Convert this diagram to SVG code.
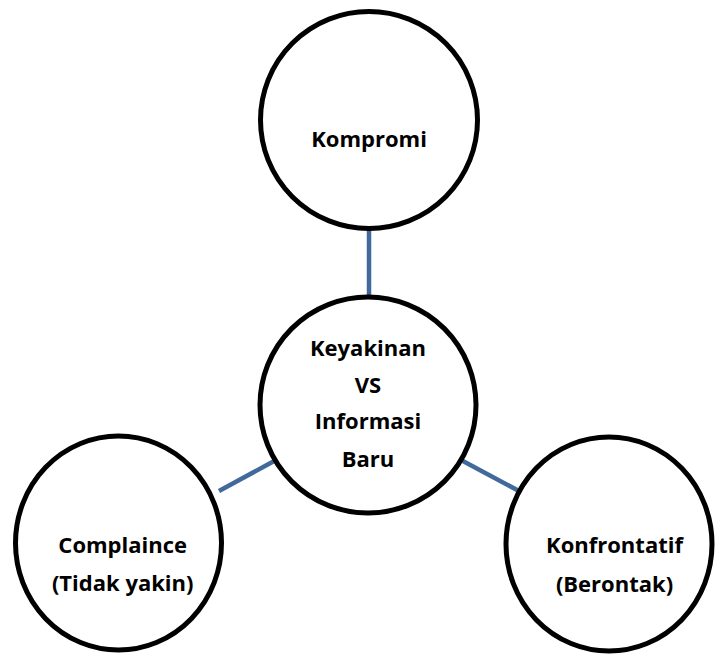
<svg xmlns="http://www.w3.org/2000/svg" width="716" height="655" viewBox="0 0 716 655">
<style>
.node{fill:#ffffff;stroke:#000000;stroke-width:5}
.conn{stroke:#41699B;stroke-width:4.5;fill:none}
text{font-family:"Open Sans","Liberation Sans",sans-serif;font-weight:bold;font-size:22px;fill:#000000;text-anchor:middle}
</style>
<rect width="716" height="655" fill="#ffffff"/>
<g id="connectors">
<line class="conn" x1="369" y1="230" x2="369" y2="297"/>
<line class="conn" x1="276" y1="460" x2="219" y2="491"/>
<line class="conn" x1="461" y1="460" x2="519" y2="491"/>
</g>
<g id="node-kompromi">
<circle class="node" cx="369" cy="120" r="108.5"/>
<text x="369" y="147">Kompromi</text>
</g>
<g id="node-center">
<circle class="node" cx="368" cy="405" r="108"/>
<text x="368" y="356">Keyakinan</text>
<text x="368" y="393">VS</text>
<text x="368" y="429">Informasi</text>
<text x="368" y="467">Baru</text>
</g>
<g id="node-complaince">
<ellipse class="node" cx="118.5" cy="543" rx="103" ry="107"/>
<text x="122.7" y="553">Complaince</text>
<text x="122.7" y="591">(Tidak yakin)</text>
</g>
<g id="node-konfrontatif">
<ellipse class="node" cx="609" cy="544" rx="103" ry="107"/>
<text x="614.5" y="553">Konfrontatif</text>
<text x="614.5" y="592">(Berontak)</text>
</g>
</svg>
